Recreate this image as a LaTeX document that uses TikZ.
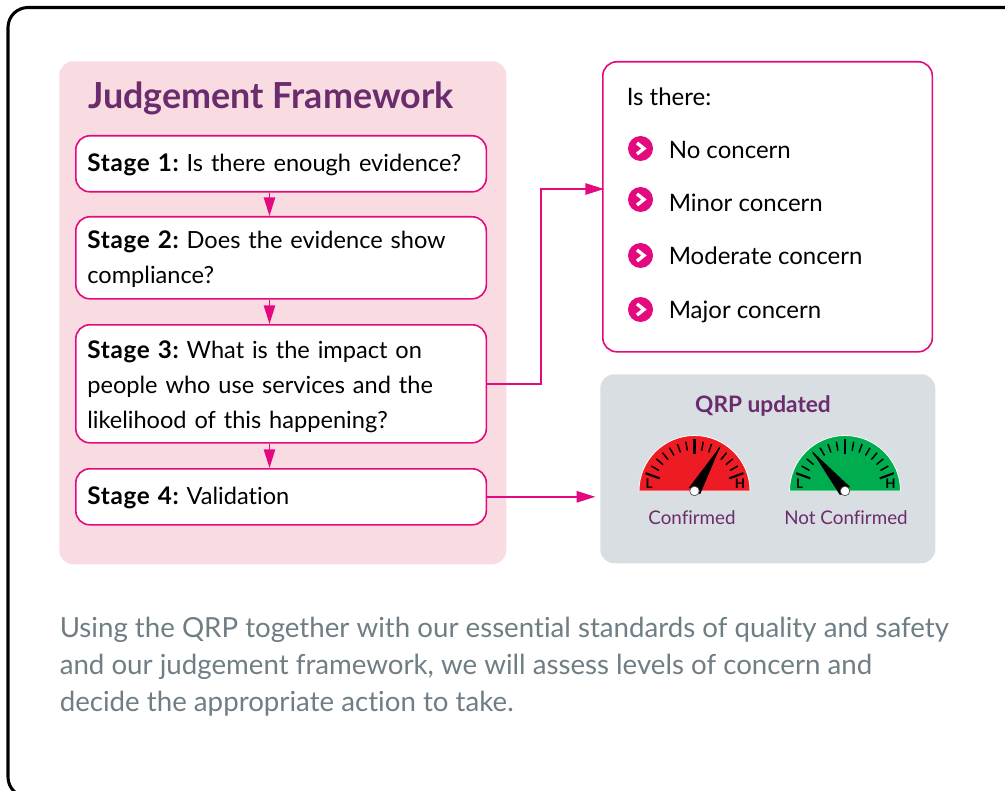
\documentclass[tikz,border=0pt]{standalone}
\usepackage{fontspec}
\setmainfont[Ligatures=CommonOff]{Lato}
\usetikzlibrary{arrows.meta,calc}
\definecolor{mag}{HTML}{E5097F}
\definecolor{purp}{HTML}{6B2C6E}
\definecolor{panelpink}{HTML}{F9DCE1}
\definecolor{panelgrey}{HTML}{D9DEE2}
\definecolor{paratext}{HTML}{6F7D85}
\definecolor{gred}{HTML}{ED1C24}
\definecolor{ggreen}{HTML}{00AD4E}
\newcommand{\stg}[1]{{\bfseries\addfontfeature{LetterSpace=3}\fontsize{18.2pt}{26.25pt}\selectfont #1}}
\tikzset{
  stagebox/.style={draw=mag,line width=1.2pt,fill=white,rounded corners=10.5pt,minimum width={410.5*0.75pt},text width={387.5*0.75pt},inner sep=0pt,inner xsep={11.5*0.75pt},align=left,font=\frenchspacing\fontsize{17.7pt}{26.25pt}\selectfont,anchor=north west},
  item/.style={anchor=base west,inner sep=0pt,font=\fontsize{18pt}{26.25pt}\selectfont},
  link/.style={draw=mag,line width=1.3pt,-{Triangle[length=14pt,width=8.5pt]}},
  bul/.style={circle,fill=mag,minimum size={25*0.75pt},inner sep=0pt},
  chev/.style={draw=white,line width=2.5pt,line join=miter},
  tick/.style={line width=1.1pt},
  gaugelabel/.style={inner sep=0pt,anchor=base,text=purp,font=\fontsize{14.1pt}{18pt}\selectfont},
  hilo/.style={inner sep=0pt,font=\bfseries\fontsize{10pt}{10pt}\selectfont},
}
\newcommand{\gaugeat}[5]{% x, fill, needle angle, needle length, name
  \begin{scope}[shift={(#1,491)},y=0.75pt]
    \fill[#2,draw=white,line width=0.6pt] (-55.5,0) arc[start angle=180,end angle=0,radius=55.5] -- cycle;
    \foreach \a in {30,40,...,80,100,110,...,150}
      \draw[tick] (\a:50) -- (\a:41);
    \foreach \a in {20,90,160}
      \draw[tick,line width=1.6pt] (\a:52) -- (\a:37);
    \fill[black] (#3:#4) -- (#3+90:6.5) -- (#3-90:6.5) -- cycle;
    \node[hilo] (#5l) at (-45.5,7) {L};
    \node[hilo] (#5h) at (45.5,7) {H};
    \node[circle,fill=white,draw=black!70,line width=0.5pt,minimum size={9.5*0.75pt},inner sep=0pt] (#5hub) at (0,0) {};
  \end{scope}
}
\begin{document}
\begin{tikzpicture}[x=0.75pt,y=-0.75pt]
\useasboundingbox (0,0) rectangle (1005,791);
\draw[black,line width=2.3pt,rounded corners=15pt] (1030,797) -- (8,797) -- (8,7.5) -- (1030,7.5);
\node[fill=panelpink,rounded corners=10.5pt,minimum width={447*0.75pt},minimum height={503*0.75pt},anchor=north west,inner sep=0pt] (panel) at (59,61) {};
\node[anchor=base west,inner sep=0pt,text=purp,font=\bfseries\fontsize{26.9pt}{30pt}\selectfont] (title) at (88,108.5) {Judgement Framework};
\coordinate (ax) at (269.5,200);
\node[stagebox,minimum height={56*0.75pt}] (s1) at (75,135) {\rule{0pt}{15.5pt}\stg{Stage 1:} Is there enough evidence?};
\node[stagebox,minimum height={82*0.75pt}] (s2) at (75,216) {\rule{0pt}{16pt}\stg{Stage 2:} Does the evidence show\\compliance?};
\node[stagebox,minimum height={118*0.75pt}] (s3) at (75,324) {\rule{0pt}{17.3pt}\stg{Stage 3:} What is the impact on\\people who use services and the\\likelihood of this happening?};
\node[stagebox,minimum height={56*0.75pt}] (s4) at (75,468) {\rule{0pt}{15.5pt}\stg{Stage 4:} Validation};
\draw[link] (s1.south -| ax) -- (s2.north -| ax);
\draw[link] (s2.south -| ax) -- (s3.north -| ax);
\draw[link] (s3.south -| ax) -- (s4.north -| ax);
\node[draw=mag,line width=1.2pt,fill=white,rounded corners=10.5pt,minimum width={329.5*0.75pt},minimum height={290*0.75pt},anchor=north west,inner sep=0pt] (concern) at (602,61) {};
\node[item] (isthere) at (626.5,105.5) {Is there:};
\node[bul] (b1) at (640.5,148.5) {};
\node[bul] (b2) at (640.5,199.5) {};
\node[bul] (b3) at (640.5,255.5) {};
\node[bul] (b4) at (640.5,309.5) {};
\foreach \b in {b1,b2,b3,b4}
  \draw[chev] ($(\b)+(-3.5,-5.5)$) -- ($(\b)+(3.5,0)$) -- ($(\b)+(-3.5,5.5)$);
\node[item] (i1) at (668.5,159) {No concern};
\node[item] (i2) at (668.5,212) {Minor concern};
\node[item] (i3) at (668.5,265) {Moderate concern};
\node[item] (i4) at (668.5,318) {Major concern};
\node[fill=panelgrey,rounded corners=10.5pt,minimum width={335*0.75pt},minimum height={189*0.75pt},anchor=north west,inner sep=0pt] (qrp) at (600,374) {};
\node[inner sep=0pt,anchor=base,text=purp,font=\bfseries\fontsize{17pt}{20pt}\selectfont] (qrpt) at (763,412) {QRP updated};
\gaugeat{694.5}{gred}{60}{52}{g}
\gaugeat{845}{ggreen}{129.6}{52}{h}
\node[gaugelabel] (c1) at (692,524) {Confirmed};
\node[gaugelabel] (c2) at (846,524) {Not Confirmed};
\coordinate (mid) at (541,189);
\draw[link] (s3.east) -| (mid) -- ($(mid -| concern.west)+(2,0)$);
\draw[link,shorten >=3.5pt] (s4.east) -- (s4.east -| qrp.west);
\node[anchor=west,inner sep=0pt,align=left,text=paratext,font=\fontsize{20.75pt}{27.75pt}\selectfont] (para) at (59.5,666.5) {Using the QRP together with our essential standards of quality and safety\\and our judgement framework, we will assess levels of concern and\\decide the appropriate action to take.};
\end{tikzpicture}
\end{document}
